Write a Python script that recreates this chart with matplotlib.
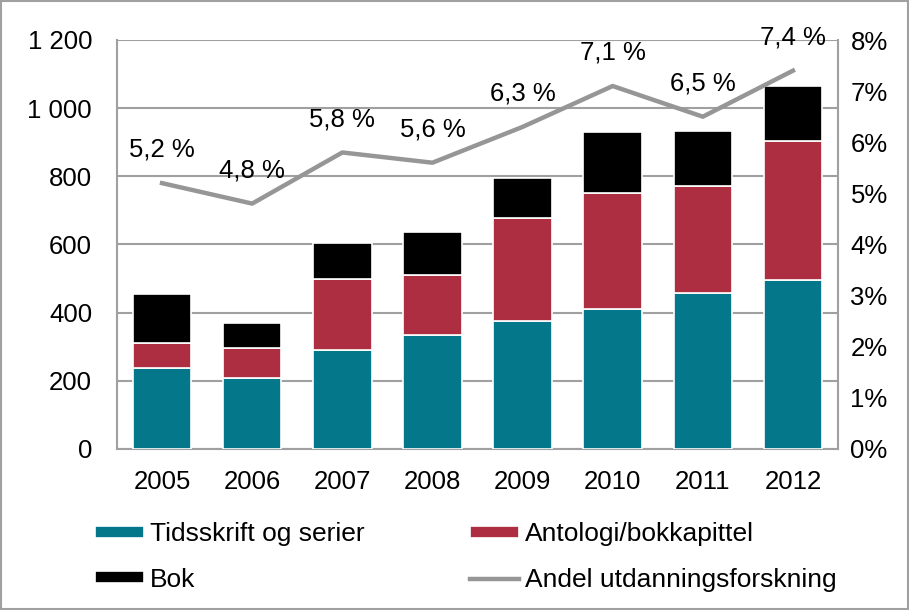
import numpy as np
import matplotlib.pyplot as plt
from matplotlib.patches import Rectangle

plt.rcParams['font.family'] = ['Liberation Sans', 'DejaVu Sans']

years = ['2005', '2006', '2007', '2008', '2009', '2010', '2011', '2012']
tidsskrift = [237, 207, 290, 334, 375, 411, 459, 496]
antologi = [73, 88, 210, 176, 303, 341, 313, 408]
bok = [145, 74, 103, 127, 116, 178, 160, 161]
andel = [5.2, 4.8, 5.8, 5.6, 6.3, 7.1, 6.5, 7.4]
andel_labels = ['5,2 %', '4,8 %', '5,8 %', '5,6 %', '6,3 %', '7,1 %', '6,5 %', '7,4 %']

left_ticks = [0, 200, 400, 600, 800, 1000, 1200]
left_labels = ['0', '200', '400', '600', '800', '1 000', '1 200']
right_ticks = [0, 1, 2, 3, 4, 5, 6, 7, 8]

teal = '#04788A'
red = '#AE2E41'
grey = '#969696'
fs = 18.5

fig = plt.figure(figsize=(9.09, 6.10), dpi=100)
ax = fig.add_axes([117 / 909, 1 - 449 / 610, 721 / 909, 409 / 610])

x = np.arange(len(years))
w = 0.65
b1 = ax.bar(x, tidsskrift, w, color=teal, edgecolor='white', linewidth=1.2, zorder=3)
b2 = ax.bar(x, antologi, w, bottom=tidsskrift, color=red, edgecolor='white', linewidth=1.2, zorder=3)
bottom3 = np.array(tidsskrift) + np.array(antologi)
b3 = ax.bar(x, bok, w, bottom=bottom3, color='black', edgecolor='white', linewidth=1.2, zorder=3)

ax.set_xlim(-0.5, 7.5)
ax.set_ylim(0, 1200)
ax.set_yticks(left_ticks)
ax.set_yticklabels(left_labels)
ax.set_xticks(x)
ax.set_xticklabels(years)
ax.yaxis.grid(True, color='#A0A0A0', linewidth=1.5, zorder=0)
ax.set_axisbelow(True)
ax.tick_params(axis='y', length=0, pad=18, labelsize=fs)
ax.tick_params(axis='x', length=0, pad=15, labelsize=fs)
for s in ['left', 'bottom', 'right']:
    ax.spines[s].set_color('#A0A0A0')
    ax.spines[s].set_linewidth(1.5)
ax.spines['top'].set_visible(False)

ax2 = ax.twinx()
ax2.set_ylim(0, 8)
ax2.set_yticks(right_ticks)
ax2.set_yticklabels([f'{t}%' for t in right_ticks])
ax2.tick_params(axis='y', length=0, pad=9, labelsize=fs)
for s in ax2.spines.values():
    s.set_visible(False)
line, = ax2.plot(x, andel, color=grey, linewidth=3.2, zorder=4)
for xi, yi, lab in zip(x, andel, andel_labels):
    ax2.annotate(lab, (xi, yi), xytext=(0, 24), textcoords='offset points',
                 ha='center', va='center', fontsize=fs)

fig.legend([b1, b3, b2, line],
           ['Tidsskrift og serier', 'Bok', 'Antologi/bokkapittel', 'Andel utdanningsforskning'],
           ncol=2, loc='upper left', bbox_to_anchor=(82 / 909, 1 - 509 / 610),
           frameon=False, fontsize=19, handlelength=1.85, handleheight=0.32,
           handletextpad=0.23, columnspacing=4.0, labelspacing=0.82, borderpad=0)

fig.patches.append(Rectangle((0.001, 0.001), 0.998, 0.998, transform=fig.transFigure,
                             fill=False, edgecolor='#A0A0A0', linewidth=1.5))

fig.savefig('out.png', dpi=100)
